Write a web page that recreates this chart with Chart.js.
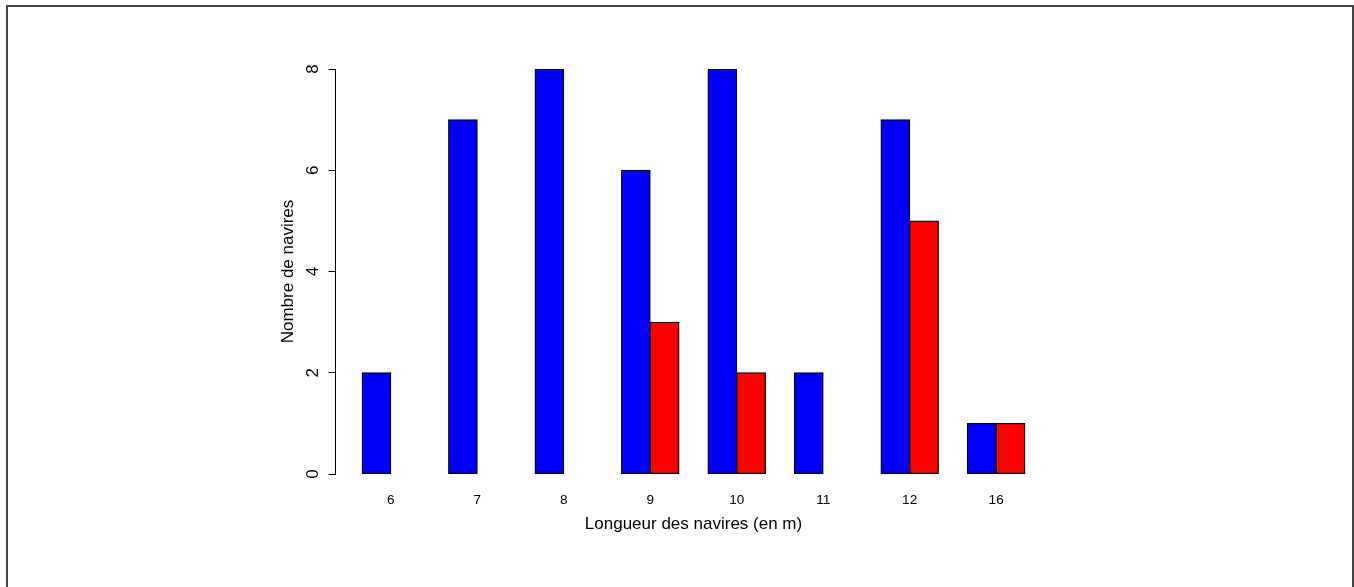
<!DOCTYPE html>
<html>
<head>
<meta charset="utf-8">
<script src="https://cdn.jsdelivr.net/npm/chart.js@4"></script>
<style>
  html, body { margin: 0; padding: 0; background: #fff; overflow: hidden; }
  #wrap { position: relative; width: 1354px; height: 587px; }
  #frame { position: absolute; left: 6px; top: 5px; width: 1348px; height: 620px; border: 2px solid #444; box-sizing: border-box; pointer-events: none; }
</style>
</head>
<body>
<div id="wrap">
  <canvas id="barChart" width="1354" height="587"></canvas>
  <div id="frame"></div>
</div>
<script>
// Nombre de navires par longueur (deux flottilles)
const lengths = ["6", "7", "8", "9", "10", "11", "12", "16"];
const blueCounts = [2, 7, 8, 6, 8, 2, 7, 1];
const redCounts = [0, 0, 0, 3, 2, 0, 5, 1];
const yTicks = [0, 2, 4, 6, 8];

Chart.defaults.font.family = "'Liberation Sans', Arial, Helvetica, sans-serif";
Chart.defaults.color = "#000";

const toPoints = (vals) => vals.map((v, i) => ({ x: i, y: v }));
const barStyle = { borderColor: "#000", borderWidth: 1.2, borderSkipped: false, inflateAmount: 0.4 };

new Chart(document.getElementById("barChart"), {
  type: "bar",
  data: {
    datasets: [
      { data: toPoints(blueCounts), backgroundColor: "#0000ff", ...barStyle },
      { data: toPoints(redCounts), backgroundColor: "#ff0000", ...barStyle },
    ],
  },
  options: {
    responsive: false, animation: false,
    categoryPercentage: 2 / 3, barPercentage: 1,
    layout: { padding: { left: 278, top: 69, right: 302.5, bottom: 52.8 } },
    plugins: { legend: { display: false }, tooltip: { enabled: false } },
    scales: {
      x: {
        type: "linear", min: -0.64, max: 7.64, offset: false,
        grid: { display: false, drawTicks: false },
        border: { display: false },
        afterBuildTicks: (axis) => { axis.ticks = lengths.map((_, i) => ({ value: i })); },
        afterFit: (axis) => { axis.height = 60.2; },
        ticks: { autoSkip: false, maxRotation: 0, padding: 18, font: { size: 13.6 }, callback: (v) => lengths[v] },
        title: { display: true, text: "Longueur des navires (en m)", font: { size: 17 }, padding: 0 },
      },
      y: {
        min: 0, max: 8,
        grid: { drawOnChartArea: false, drawTicks: true, tickLength: 7, color: "#000" },
        border: { display: true, color: "#000", width: 1 },
        afterBuildTicks: (axis) => { axis.ticks = yTicks.map((v) => ({ value: v })); },
        afterFit: (axis) => { axis.width = 57.5; },
        ticks: { minRotation: 90, maxRotation: 90, crossAlign: "center", padding: 10, font: { size: 17 } },
        title: { display: true, text: "Nombre de navires", font: { size: 17 }, padding: 0 },
      },
    },
  },
});
</script>
</body>
</html>
